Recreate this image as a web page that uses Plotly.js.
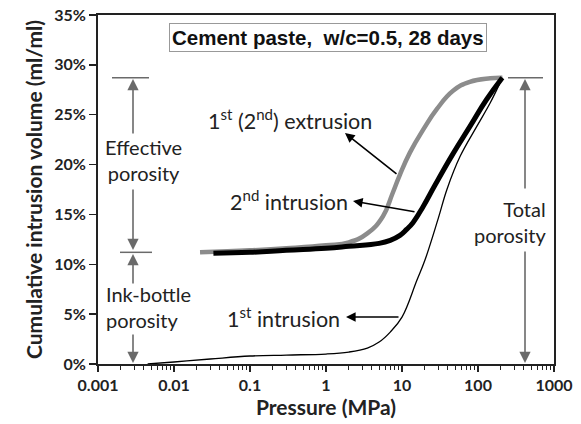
<!DOCTYPE html>
<html><head><meta charset="utf-8">
<script src="https://cdn.plot.ly/plotly-3.0.1.min.js"></script>
<style>html,body{margin:0;padding:0;background:#fff}#chart{width:581px;height:424px}</style>
</head><body><div id="chart"></div>
<script>
// Data (pressure in MPa, volume in %)
var int1Pressure = [0.0045, 0.01, 0.03, 0.1, 0.3, 1, 2, 3.5, 5, 7, 10, 15.7, 20, 30, 39, 58, 96, 145, 195, 209];
var int1Volume   = [0, 0.2, 0.5, 0.8, 0.9, 1.0, 1.2, 1.6, 2.2, 3.2, 4.7, 8.4, 10.4, 14.6, 17.5, 20.8, 23.8, 26.2, 28.2, 28.7];
var int2Pressure = [0.033, 0.1, 0.3, 1, 2, 5, 7, 9.4, 11.5, 14, 19, 27, 47, 78, 129, 209];
var int2Volume   = [11.1, 11.2, 11.4, 11.6, 11.8, 12.1, 12.4, 12.9, 13.5, 14.2, 15.8, 17.9, 21.1, 23.8, 26.5, 28.7];
var extPressure  = [0.022, 0.1, 0.3, 1, 2, 3.5, 5.6, 7.5, 9.4, 12.7, 19, 29, 47, 78, 145, 209];
var extVolume    = [11.2, 11.4, 11.6, 11.9, 12.2, 13.1, 14.8, 17.1, 19.0, 21.2, 23.5, 25.6, 27.4, 28.3, 28.65, 28.7];
var xTickVals = [0.001, 0.01, 0.1, 1, 10, 100, 1000];
var xTickText = ['0.001', '0.01', '0.1', '1', '10', '100', '1000'];
var yTickVals = [0, 0.05, 0.10, 0.15, 0.20, 0.25, 0.30, 0.35];
var totalPorosity = 28.7, inkBottleLevel = 11.2;

function frac(a){ return a.map(function(v){ return v/100; }); }

// layout geometry helpers (plot area 98..554 x, 15..364 y)
var L=98, R=27, T=15, B=60, W=581-L-R, H=424-T-B;
function xp(px){ return (px-L)/W; }
function yp(py){ return (T+H-py)/H; }

var traces = [
  {x: extPressure, y: frac(extVolume), mode:'lines', line:{color:'#8c8c8c', width:4.5, shape:'spline', smoothing:1.3}, hoverinfo:'skip'},
  {x: int2Pressure, y: frac(int2Volume), mode:'lines', line:{color:'#000', width:5, shape:'spline', smoothing:1.3}, hoverinfo:'skip'},
  {x: int1Pressure, y: frac(int1Volume), mode:'lines', line:{color:'#000', width:1.3, shape:'spline', smoothing:1.1}, hoverinfo:'skip'}
];

var gray = '#6a6a6a';
function arrow(hx, hy, tx, ty, col, size){
  return {xref:'paper', yref:'paper', x:xp(hx), y:yp(hy), ax:tx-hx, ay:ty-hy, text:'', showarrow:true,
          arrowhead:2, arrowsize:size||1.2, arrowwidth:1.6, arrowcolor:col, standoff:0};
}
function label(text, px, py, anchor, align, size){
  return {xref:'paper', yref:'paper', x:xp(px), y:yp(py), xanchor:anchor, yanchor:'middle', align:align||'left',
          text:text, showarrow:false, font:{family:'Lato, sans-serif', size:size||20, color:'#222'}};
}

var annotations = [
  {xref:'paper', yref:'paper', x:xp(327.5), y:yp(38), xanchor:'center', yanchor:'middle',
   text:'<b>Cement paste,  w/c=0.5, 28 days</b>', showarrow:false,
   font:{family:'Liberation Sans, Arial, sans-serif', size:20.5, color:'#111'},
   bordercolor:'#999', borderwidth:1, borderpad:2, bgcolor:'#fff'},
  // left porosity arrows
  arrow(133, 79, 133, 135, gray, 1.4),
  arrow(133, 250, 133, 188, gray, 1.4),
  arrow(133, 254, 133, 285, gray, 1.4),
  arrow(133, 363, 133, 333, gray, 1.4),
  // right total porosity arrows
  arrow(525, 79, 525, 190, gray, 1.4),
  arrow(525, 363, 525, 250, gray, 1.4),
  // curve label arrows
  arrow(345, 133, 398, 175, '#000', 1.2),
  arrow(353, 201, 416, 212, '#000', 1.2),
  arrow(346, 317, 400, 317, '#000', 1.2),
  label('Effective<br>porosity', 143, 160, 'center', 'center'),
  label('Ink-bottle<br>porosity', 104, 307, 'left', 'left'),
  label('Total<br>porosity', 548, 222, 'right', 'right'),
  label('1<sup>st</sup> (2<sup>nd</sup>) extrusion', 206, 120, 'left', 'left', 21.5),
  label('2<sup>nd</sup> intrusion', 228, 200, 'left', 'left', 21.5),
  label('1<sup>st</sup> intrusion', 225, 317, 'left', 'left', 21.5)
];

var shapes = [
  {type:'line', xref:'paper', yref:'y', x0:xp(112), x1:xp(149), y0:totalPorosity/100, y1:totalPorosity/100, line:{color:gray, width:1.5}},
  {type:'line', xref:'paper', yref:'y', x0:xp(120), x1:xp(152), y0:inkBottleLevel/100, y1:inkBottleLevel/100, line:{color:gray, width:1.5}},
  {type:'line', xref:'paper', yref:'y', x0:xp(508), x1:xp(543), y0:totalPorosity/100, y1:totalPorosity/100, line:{color:gray, width:1.5}}
];

var tickFont = {family:'Lato, sans-serif', size:16, color:'#222', weight:'bold'};
var layout = {
  width:581, height:424, margin:{l:L, r:R, t:T, b:B}, showlegend:false,
  paper_bgcolor:'#fff', plot_bgcolor:'#fff',
  xaxis:{type:'log', range:[-3,3], tickvals:xTickVals, ticktext:xTickText, ticks:'outside', ticklen:6, tickwidth:1.5, tickcolor:'#222',
         showline:true, linecolor:'#222', linewidth:2, mirror:true, showgrid:false, zeroline:false,
         minor:{dtick:'D1', ticks:'outside', ticklen:4, tickwidth:1, tickcolor:'#222', showgrid:false},
         tickfont:tickFont,
         title:{text:'<b>Pressure (MPa)</b>', font:{family:'Lato, sans-serif', size:21, color:'#222'}, standoff:6}},
  yaxis:{range:[0,0.35], tickvals:yTickVals, tickformat:'.0%', ticks:'outside', ticklen:7, tickwidth:1.5, tickcolor:'#222',
         showline:true, linecolor:'#222', linewidth:2, mirror:true, showgrid:false, zeroline:false,
         tickfont:tickFont,
         title:{text:'<b>Cumulative intrusion volume (ml/ml)</b>', font:{family:'Lato, sans-serif', size:21, color:'#222'}, standoff:6}},
  annotations:annotations, shapes:shapes
};
Plotly.newPlot('chart', traces, layout, {staticPlot:true});
</script></body></html>
